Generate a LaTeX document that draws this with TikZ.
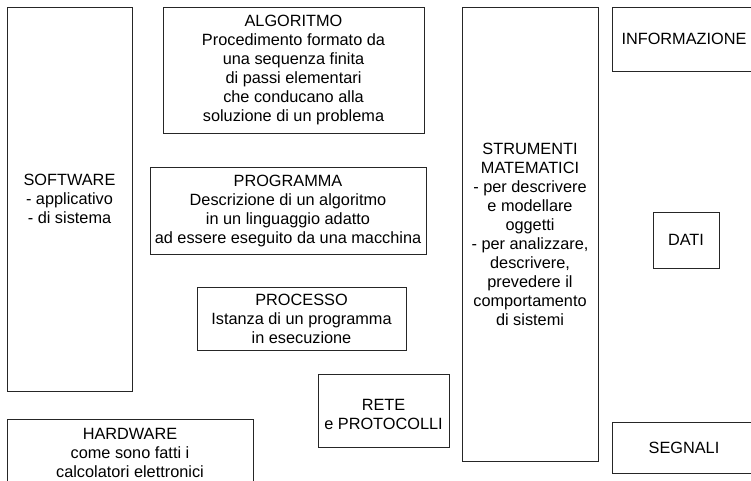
\documentclass[tikz,border=0pt]{standalone}
\usepackage{fontspec}
\setmainfont{Liberation Sans}
\begin{document}
\begin{tikzpicture}[x=1pt,y=-1pt,
  txt/.style={align=center, inner sep=0pt, font=\fontsize{16.3}{19}\selectfont},
  box/.style={txt, draw=black!85, line width=0.9pt, rectangle}]
\clip (0,0) rectangle (751,480);
\node[box, minimum width=125pt, minimum height=384pt] (software) at (69.5,199)
  {SOFTWARE\\- applicativo\\- di sistema};
\node[box, minimum width=246pt, minimum height=68pt] (hardware) at (130,453)
  {HARDWARE\\come sono fatti i\\calcolatori elettronici};
\node[box, minimum width=261pt, minimum height=126pt] (algoritmo) at (293.5,70)
  {ALGORITMO\\Procedimento formato da\\una sequenza finita\\di passi elementari\\che conducano alla\\soluzione di un problema};
\node[box, minimum width=276pt, minimum height=87pt] (programma) at (288,210.5)
  {PROGRAMMA\\Descrizione di un algoritmo\\in un linguaggio adatto\\ad essere eseguito da una macchina};
\node[box, minimum width=209pt, minimum height=63pt] (processo) at (301.5,318.5)
  {PROCESSO\\Istanza di un programma\\in esecuzione};
\node[box, minimum width=131pt, minimum height=73pt,
  label={[txt, yshift=-3.5pt]center:RETE\\e PROTOCOLLI}] (rete) at (383.5,410.5) {};
\node[box, minimum width=136pt, minimum height=454pt] (strumenti) at (530,234)
  {STRUMENTI\\MATEMATICI\\- per descrivere\\e modellare\\oggetti\\- per analizzare,\\descrivere,\\prevedere il\\comportamento\\di sistemi};
\node[box, minimum width=144pt, minimum height=64pt] (informazione) at (684,39)
  {INFORMAZIONE};
\node[box, minimum width=66pt, minimum height=56pt] (dati) at (686,240)
  {DATI};
\node[box, minimum width=144pt, minimum height=51pt] (segnali) at (684,447.5)
  {SEGNALI};
\end{tikzpicture}
\end{document}
